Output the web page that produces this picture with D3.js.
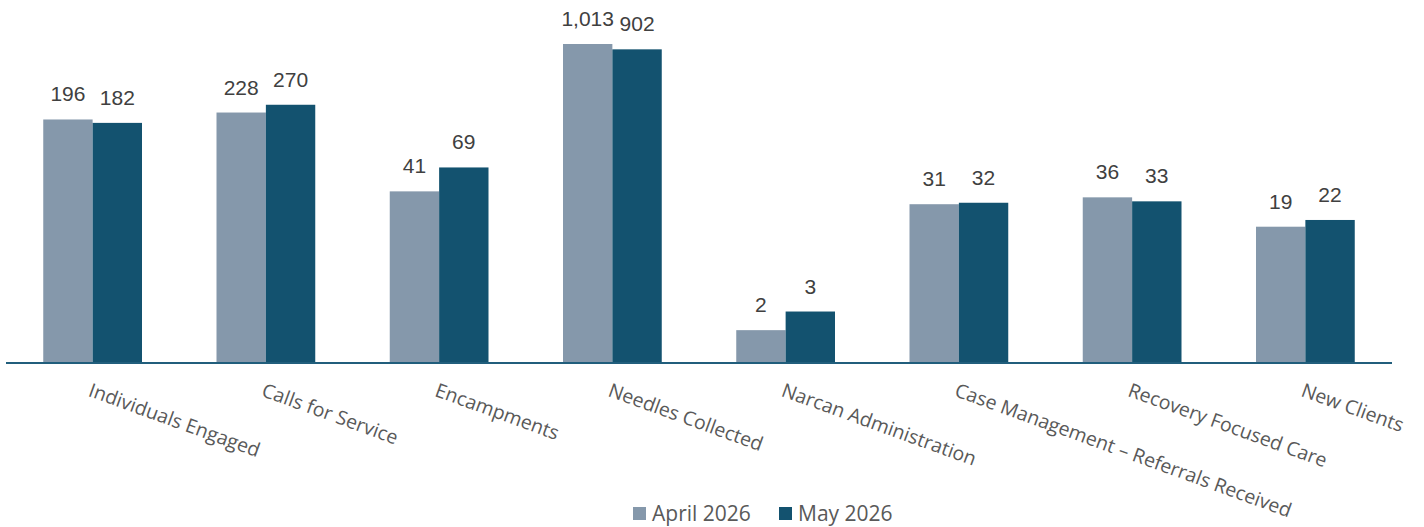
<!DOCTYPE html>
<html>
<head>
<meta charset="utf-8">
<script src="https://cdn.jsdelivr.net/npm/d3@7"></script>
<style>
  body { margin: 0; background: #fff; }
  svg { display: block; }
</style>
</head>
<body>
<div id="chart"></div>
<script>
// values
var categories = ["Individuals Engaged", "Calls for Service", "Encampments", "Needles Collected",
    "Narcan Administration", "Case Management \u2013 Referrals Received", "Recovery Focused Care", "New Clients"];
var seriesNames = ["April 2026", "May 2026"];
var april = [196, 228, 41, 1013, 2, 31, 36, 19];
var may = [182, 270, 69, 902, 3, 32, 33, 22];
var colors = ["#8598ab", "#13526f"];

var width = 1424, height = 527;
var baseY = 362;

var svg = d3.select("#chart").append("svg")
    .attr("width", width)
    .attr("height", height);

var x = d3.scaleBand()
    .domain(categories)
    .range([6, 1392])
    .paddingInner(0.43)
    .paddingOuter(0.215);

var x1 = d3.scaleBand()
    .domain(seriesNames)
    .range([0, x.bandwidth()]);

// log axis, 1 sits on the baseline
var y = d3.scaleLog()
    .domain([1, 1000])
    .range([baseY, baseY - 317.4]);

var rows = categories.map(function (c, i) {
    return { cat: c, vals: [{ s: seriesNames[0], v: april[i] }, { s: seriesNames[1], v: may[i] }] };
});

var groups = svg.selectAll(".grp")
    .data(rows)
    .enter().append("g")
    .attr("class", "grp")
    .attr("transform", function (d) { return "translate(" + x(d.cat) + ",0)"; });

groups.selectAll("rect")
    .data(function (d) { return d.vals; })
    .enter().append("rect")
    .attr("x", function (d) { return x1(d.s); })
    .attr("width", x1.bandwidth())
    .attr("y", function (d) { return y(d.v); })
    .attr("height", function (d) { return baseY - y(d.v); })
    .attr("fill", function (d, i) { return colors[i]; });

groups.selectAll("text.val")
    .data(function (d) { return d.vals; })
    .enter().append("text")
    .attr("class", "val")
    .attr("x", function (d) { return x1(d.s) + x1.bandwidth() / 2; })
    .attr("y", function (d) { return y(d.v) - 18; })
    .attr("text-anchor", "middle")
    .style("font-family", "'Liberation Sans', Arial, sans-serif")
    .style("font-size", "21px")
    .style("fill", "#404040")
    .text(function (d) { return d3.format(",")(d.v); });

// axis line
svg.append("line")
    .attr("x1", 6).attr("x2", 1392)
    .attr("y1", baseY + 1).attr("y2", baseY + 1)
    .attr("stroke", "#215e7c")
    .attr("stroke-width", 2);

// rotated category labels
svg.selectAll(".cat")
    .data(categories)
    .enter().append("text")
    .attr("class", "cat")
    .attr("transform", function (d) {
        return "translate(" + (x(d) + x.bandwidth() / 2) + "," + (baseY + 19) + ") rotate(20)";
    })
    .attr("dy", "0.8em")
    .style("font-family", "'Open Sans', sans-serif")
    .style("font-size", "19.5px")
    .style("fill", "#595959")
    .text(function (d) { return d; });

// legend
var legend = svg.append("g").attr("transform", "translate(633,507)");
var items = legend.selectAll("g")
    .data(seriesNames)
    .enter().append("g")
    .attr("transform", function (d, i) { return "translate(" + (i * 146) + ",0)"; });
items.append("rect")
    .attr("width", 13).attr("height", 13)
    .attr("fill", function (d, i) { return colors[i]; });
items.append("text")
    .attr("x", 19).attr("y", 14)
    .style("font-family", "'Open Sans', sans-serif")
    .style("font-size", "21px")
    .style("fill", "#595959")
    .text(function (d) { return d; });
</script>
</body>
</html>
